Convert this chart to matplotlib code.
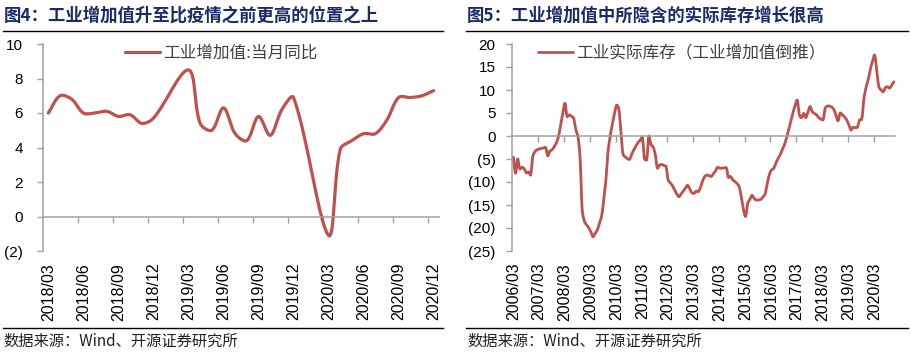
import numpy as np
import pandas as pd
import matplotlib
matplotlib.use('Agg')
import matplotlib.pyplot as plt
from matplotlib.lines import Line2D
from matplotlib.ticker import FuncFormatter

nan = np.nan

# 图4：工业增加值:当月同比 (1-2月无单月数据)
ip_months = pd.date_range('2018-03', '2020-12', freq='MS').strftime('%Y/%m').tolist()
ip_yoy = [6.0, 7.0, 6.8, 6.0, 6.0, 6.1, 5.8, 5.9, 5.4, 5.7,
          nan, nan, 8.5, 5.4, 5.0, 6.3, 4.8, 4.4, 5.8, 4.7, 6.2, 6.9,
          nan, nan, -1.1, 3.9, 4.4, 4.8, 4.8, 5.6, 6.9, 6.9, 7.0, 7.3]

# 图5：工业实际库存（工业增加值倒推）
inv_months = pd.date_range('2006-03', '2020-12', freq='MS').strftime('%Y/%m').tolist()
inv_real = [
    -4.6, -8.1, -5.0, -7.2, -6.8, -7.1, -8.0, -7.8, -8.5, -4.5, -3.4, -3.0,
    -2.8, -2.7, -2.6, -2.5, -4.3, -3.3, -3.0, -2.3, -1.5, -0.1, 2.5, 5.0,
    7.1, 4.2, 4.6, 4.3, 3.9, 1.5, 0.0, -4.5, -16.0, -18.5, -19.3, -19.9,
    -20.8, -21.9, -21.2, -20.5, -19.0, -17.5, -14.0, -9.8, -3.5, -0.1, 2.5, 4.8,
    6.7, 6.0, 1.0, -4.0, -4.5, -4.9, -5.1, -4.0, -3.0, -2.2, -1.4, -0.9,
    -0.3, -5.0, -5.2, 0.0, -1.8, -2.4, -4.0, -7.0, -6.3, -6.2, -6.4, -6.6,
    -9.6, -10.2, -10.8, -11.8, -12.6, -13.2, -12.6, -12.0, -11.3, -10.7, -11.5, -12.3,
    -12.5, -12.0, -12.1, -11.2, -9.8, -8.8, -8.5, -8.6, -8.8, -8.2, -7.6, -6.8,
    -7.0, -7.0, -6.9, -6.9, -9.0, -8.8, -9.5, -9.9, -10.3, -11.0, -13.2, -16.0,
    -17.5, -14.6, -13.8, -12.9, -13.6, -13.9, -13.9, -13.8, -13.3, -12.7, -10.5, -8.5,
    -7.4, -7.1, -6.0, -5.0, -4.2, -3.0, -2.0, -0.5, 1.3, 3.0, 5.0, 6.6,
    7.8, 4.6, 4.0, 4.9, 4.0, 5.2, 6.4, 5.3, 4.9, 4.6, 4.0, 3.7,
    3.5, 6.0, 6.5, 6.5, 6.3, 5.8, 4.6, 3.3, 5.0, 4.6, 4.2, 3.5,
    2.5, 1.3, 1.9, 1.8, 1.9, 3.5, 3.6, 8.0, 10.5, 12.2, 14.5, 16.2,
    17.6, 14.3, 10.7, 10.0, 9.6, 10.5, 10.7, 10.4, 11.1, 11.8,
]

RED = '#C0504D'
GREY = '#A0A0A0'
NAVY = '#1B2A6B'
CJK = ['Noto Sans CJK SC', 'DejaVu Sans']

plt.rcParams['font.family'] = ['Liberation Sans', 'Noto Sans CJK SC', 'DejaVu Sans']


def smooth(pts, n=16):
    """平滑线（弦长加权的 Bezier），在屏幕坐标中计算"""
    P = np.vstack([pts[0], pts, pts[-1]])
    t = np.linspace(0, 1, n)[:, None]
    out = []
    for i in range(1, len(P) - 2):
        p0, p1, p2, p3 = P[i - 1], P[i], P[i + 1], P[i + 2]
        d01 = np.hypot(*(p1 - p0))
        d12 = np.hypot(*(p2 - p1))
        d23 = np.hypot(*(p3 - p2))
        t1 = (p2 - p0) / max(d01 + d12, 1e-9)
        t2 = (p3 - p1) / max(d12 + d23, 1e-9)
        c1 = p1 + t1 * d12 / 3
        c2 = p2 - t2 * d12 / 3
        out.append((1 - t) ** 3 * p1 + 3 * (1 - t) ** 2 * t * c1
                   + 3 * (1 - t) * t ** 2 * c2 + t ** 3 * p2)
    return np.vstack(out)


def paren_fmt(v, pos):
    return f'({abs(v):.0f})' if v < 0 else f'{v:.0f}'


def draw_panel(ax, labels, values, step, ylim, ystep, ypad, legend_text, leg_x, lw):
    n = len(labels)
    vals = np.array(values, dtype=float)
    idx = np.arange(n)
    ok = ~np.isnan(vals)

    ax.set_xlim(-0.5, n - 0.5)
    ax.set_ylim(*ylim)
    disp = ax.transData.transform(np.column_stack([idx[ok], vals[ok]]))
    curve = ax.transData.inverted().transform(smooth(disp))
    ax.plot(curve[:, 0], curve[:, 1], color=RED, lw=lw, solid_capstyle='round',
            label=legend_text)

    ax.set_yticks(np.arange(ylim[0], ylim[1] + 0.1, ystep))
    ax.yaxis.set_major_formatter(FuncFormatter(paren_fmt))
    ax.tick_params(axis='y', direction='out', length=4.5, width=1, color=GREY,
                   labelsize=11, pad=ypad)

    for s in ['top', 'right']:
        ax.spines[s].set_visible(False)
    ax.spines['left'].set_color(GREY)
    ax.spines['bottom'].set_color(GREY)
    ax.spines['bottom'].set_position(('data', 0))
    ax.spines['left'].set_linewidth(1.1)
    ax.spines['bottom'].set_linewidth(1.1)

    # 刻度线位于类别之间，标签在底部
    ax.set_xticks(np.arange(step, n, step) - 0.5)
    ax.tick_params(axis='x', direction='out', length=4.5, width=1, color=GREY,
                   labelbottom=False)
    sec = ax.secondary_xaxis('bottom')
    sec.set_xticks(idx[::step], labels=labels[::step])
    sec.tick_params(length=0, pad=8.5, labelsize=11.5, labelrotation=90)
    for sp in sec.spines.values():
        sp.set_visible(False)

    ax.legend(loc='center left', bbox_to_anchor=(leg_x, 0.955), frameon=False,
              borderpad=0, borderaxespad=0, handlelength=2.1, handletextpad=0.2,
              prop={'family': CJK, 'size': 12}, labelcolor='#404040')


fig = plt.figure(figsize=(9.11, 3.53), dpi=100)
W, H = 911, 353


def fx(px):
    return px / W


def fy(py):
    return 1 - py / H


ax1 = fig.add_axes([fx(42.5), fy(251), fx(439.5 - 42.5), fy(44) - fy(251)])
draw_panel(ax1, ip_months, ip_yoy, 3, (-2, 10), 2, 9.5,
           '工业增加值:当月同比', 0.208, 2.3)

ax2 = fig.add_axes([fx(512.3), fy(251), fx(895 - 512.3), fy(44) - fy(251)])
draw_panel(ax2, inv_months, inv_real, 12, (-25, 20), 5, 7.5,
           '工业实际库存（工业增加值倒推）', 0.066, 2.0)

# 标题、分隔线、数据来源
fig.text(fx(4), fy(16), '图4：工业增加值升至比疫情之前更高的位置之上', family=CJK,
         fontsize=12.5, fontweight='bold', color=NAVY, va='center', ha='left')
fig.text(fx(467), fy(16), '图5：工业增加值中所隐含的实际库存增长很高', family=CJK,
         fontsize=12.5, fontweight='bold', color=NAVY, va='center', ha='left')

for x0, x1 in [(3, 443), (466, 908)]:
    for y in (30.5, 328):
        fig.add_artist(Line2D([fx(x0), fx(x1)], [fy(y), fy(y)], color='black', lw=1.0))

fig.text(fx(3), fy(341), '数据来源：Wind、开源证券研究所', family=CJK, fontsize=11,
         color='#222222', va='center', ha='left')
fig.text(fx(467), fy(341), '数据来源：Wind、开源证券研究所', family=CJK, fontsize=11,
         color='#222222', va='center', ha='left')

fig.savefig('out.png', dpi=100, facecolor='white')
